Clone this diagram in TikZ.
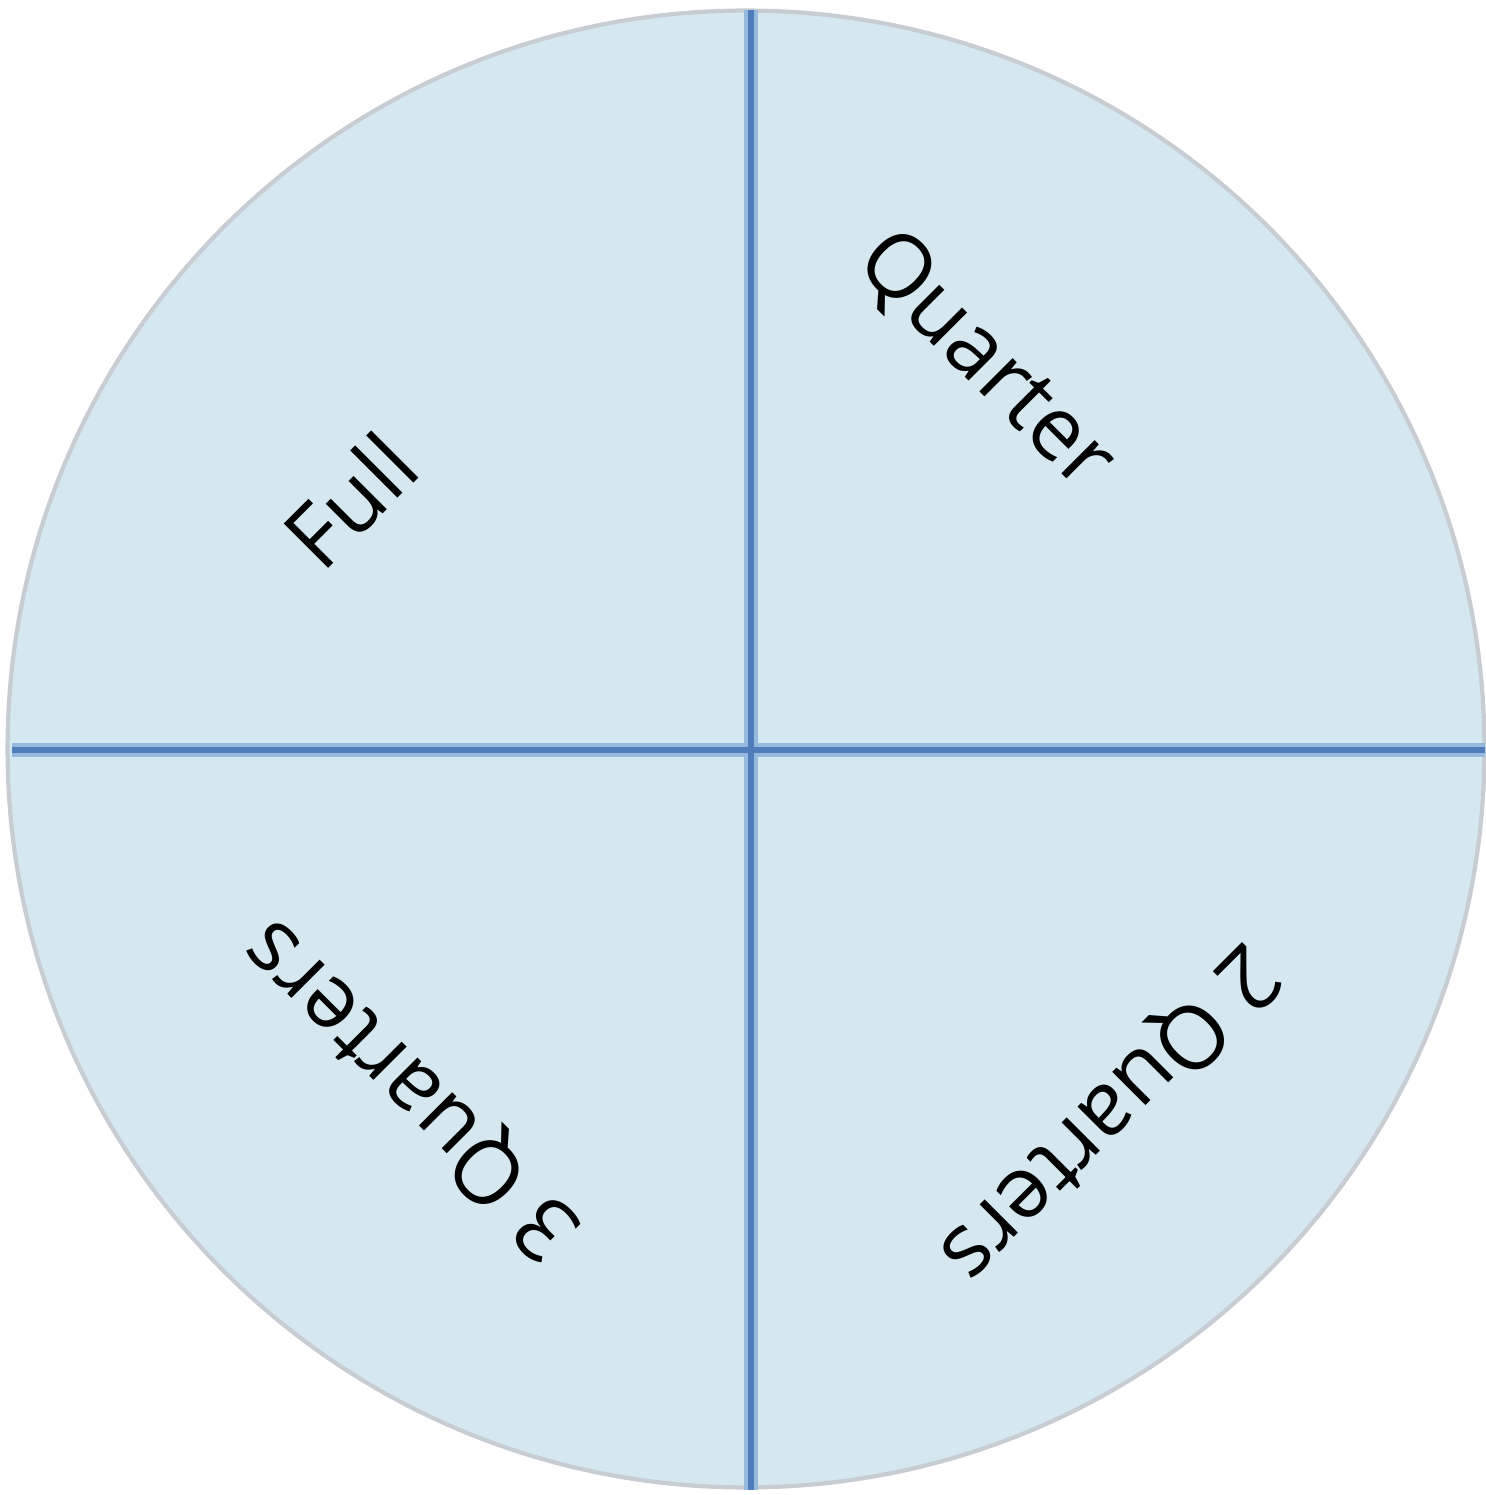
\documentclass[tikz,border=0pt]{standalone}
\usepackage{fontspec}
\setmainfont{Open Sans}
\definecolor{pie}{RGB}{213,232,240}
\definecolor{rim}{RGB}{200,205,212}
\definecolor{lcore}{RGB}{79,125,185}
\definecolor{lhalo}{RGB}{150,185,222}
\tikzset{
  halo/.style={draw=lhalo, line width=4.2pt},
  core/.style={draw=lcore, line width=1.5pt},
  lbl/.style={font=\fontsize{25}{30}\selectfont, text=black, inner sep=0pt}
}
\begin{document}
\begin{tikzpicture}[x=0.01cm, y=-0.01cm]
\useasboundingbox (0,0) rectangle (1485,1495);
\fill[white] (0,0) rectangle (1485,1495);
\node[circle, minimum size=14.76cm, inner sep=0pt, fill=pie, draw=rim, line width=1.2pt] (disc) at (746,749) {};
\coordinate (top) at (751,10);
\coordinate (bot) at (751,1490);
\coordinate (lft) at (12,750);
\coordinate (rgt) at (1485,750);
\draw[halo] (top) -- (bot);
\draw[halo] (lft) -- (rgt);
\draw[core] (top) -- (bot);
\draw[core] (lft) -- (rgt);
\node[lbl, rotate=45] (full) at (350,500) {Full};
\node[lbl, rotate=-45] (quarter) at (985,362) {Quarter};
\node[lbl, rotate=-135] (two) at (1108,1112) {2 Quarters};
\node[lbl, rotate=135] (three) at (413,1088) {3 Quarters};
\end{tikzpicture}
\end{document}
